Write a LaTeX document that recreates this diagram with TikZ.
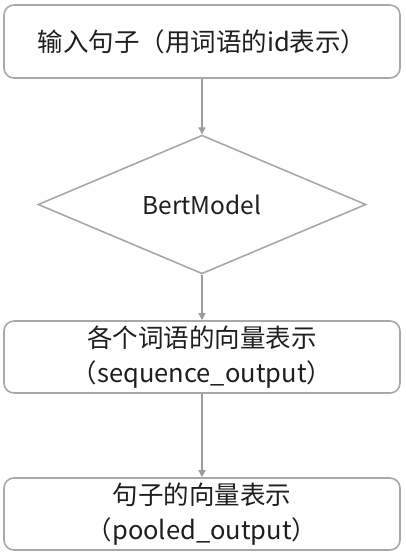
\documentclass[tikz,border=0pt]{standalone}
\usepackage{fontspec}
\setmainfont{Noto Sans CJK SC}
\usepackage{xcolor}
\usetikzlibrary{shapes.geometric, arrows.meta, positioning}

\definecolor{edgegray}{HTML}{A8A8A8}
\definecolor{arrowgray}{HTML}{9C9C9C}
\definecolor{textdark}{HTML}{1E1E1E}

\begin{document}
\begin{tikzpicture}[
          x=1pt, y=1pt,
          flowbox/.style={rectangle, draw=edgegray, line width=1.6pt, rounded corners=10pt, align=center, inner sep=0pt, minimum width=396pt, text=textdark, font=\fontsize{25.5}{35}\selectfont},
          flowdecision/.style={diamond, draw=edgegray, line width=1.6pt, inner sep=0pt, text=textdark, font=\fontsize{24.5}{28}\selectfont},
          flowarrow/.style={draw=arrowgray, line width=1.3pt, -{Triangle[length=7pt, width=7pt]}}
        ]
          \useasboundingbox (0,0) rectangle (405,-556);

          % input sentence
          \node[flowbox, minimum height=73pt] (inputbox) at (202,-41.5) {输入句子（用词语的id表示）};

          % bert
          \node[flowdecision, minimum width=328pt, minimum height=117pt] (bertmodel) at (202,-204.5) {BertModel};

          % token vectors
          \node[flowbox, minimum height=72pt] (seqbox) at (202,-357) {各个词语的向量表示\\（sequence\_output）};

          % sentence vector
          \node[flowbox, minimum height=72pt] (poolbox) at (202,-514) {句子的向量表示\\（pooled\_output）};

          \draw[flowarrow] (inputbox) -- (bertmodel);
          \draw[flowarrow] (bertmodel) -- (seqbox);
          \draw[flowarrow] (seqbox) -- (poolbox);
        \end{tikzpicture}
\end{document}
